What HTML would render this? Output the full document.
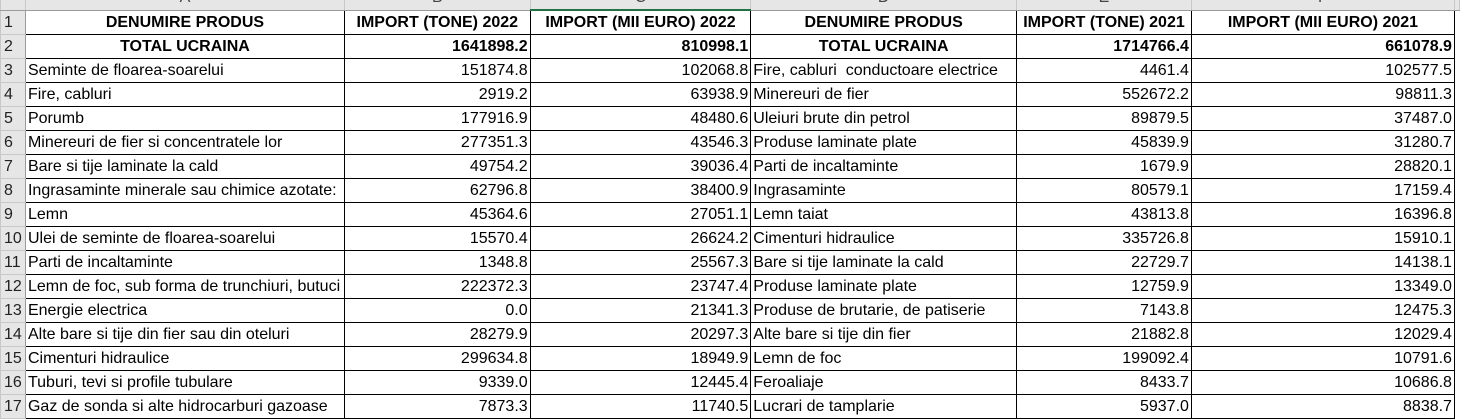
<!DOCTYPE html>
<html><head><meta charset="utf-8"><style>
html,body{margin:0;padding:0;background:#fff;width:1460px;height:417px;overflow:hidden}
table{position:absolute;left:0;top:-15px;border-collapse:collapse;table-layout:fixed;font-family:"Liberation Sans",Arial,sans-serif;font-size:16px;color:#000}
td{height:23px;padding:0 2px;border:1px solid #000;white-space:nowrap;overflow:hidden;line-height:23px}
td.rh{background:#e6e6e6;border:1px solid #c8c8c8;border-right:1px solid #9a9a9a;color:#222;text-align:left;padding-left:3px;font-size:16px}
tr.ch td{background:#e6e6e6;border:1px solid #c8c8c8;border-bottom:1px solid #9a9a9a;color:#444;text-align:center}
tr.ch td.sel{border-bottom:2px solid #217346}
.b{font-weight:bold}
.c{text-align:center}
.r{text-align:right}
td.e{border:none;background:#fff}
</style></head><body>
<table>
<colgroup><col style="width:25px"><col style="width:319px"><col style="width:186px"><col style="width:221px"><col style="width:266px"><col style="width:175px"><col style="width:264px"><col style="width:4px"></colgroup>
<tr class="ch"><td></td><td>A</td><td>B</td><td class="sel">C</td><td>D</td><td>E</td><td>F</td><td class="e" style="background:#e6e6e6"></td></tr>
<tr><td class="rh">1</td><td class="b c">DENUMIRE PRODUS</td><td class="b c">IMPORT (TONE) 2022</td><td class="b c">IMPORT (MII EURO) 2022</td><td class="b c">DENUMIRE PRODUS</td><td class="b c">IMPORT (TONE) 2021</td><td class="b c">IMPORT (MII EURO) 2021</td><td class="e"></td></tr>
<tr><td class="rh">2</td><td class="b c">TOTAL UCRAINA</td><td class="b r">1641898.2</td><td class="b r">810998.1</td><td class="b c">TOTAL UCRAINA</td><td class="b r">1714766.4</td><td class="b r">661078.9</td><td class="e"></td></tr>
<tr><td class="rh">3</td><td>Seminte de floarea-soarelui</td><td class="r">151874.8</td><td class="r">102068.8</td><td>Fire, cabluri&nbsp; conductoare electrice</td><td class="r">4461.4</td><td class="r">102577.5</td><td class="e"></td></tr>
<tr><td class="rh">4</td><td>Fire, cabluri</td><td class="r">2919.2</td><td class="r">63938.9</td><td>Minereuri de fier</td><td class="r">552672.2</td><td class="r">98811.3</td><td class="e"></td></tr>
<tr><td class="rh">5</td><td>Porumb</td><td class="r">177916.9</td><td class="r">48480.6</td><td>Uleiuri brute din petrol</td><td class="r">89879.5</td><td class="r">37487.0</td><td class="e"></td></tr>
<tr><td class="rh">6</td><td>Minereuri de fier si concentratele lor</td><td class="r">277351.3</td><td class="r">43546.3</td><td>Produse laminate plate</td><td class="r">45839.9</td><td class="r">31280.7</td><td class="e"></td></tr>
<tr><td class="rh">7</td><td>Bare si tije laminate la cald</td><td class="r">49754.2</td><td class="r">39036.4</td><td>Parti de incaltaminte</td><td class="r">1679.9</td><td class="r">28820.1</td><td class="e"></td></tr>
<tr><td class="rh">8</td><td>Ingrasaminte minerale sau chimice azotate:</td><td class="r">62796.8</td><td class="r">38400.9</td><td>Ingrasaminte</td><td class="r">80579.1</td><td class="r">17159.4</td><td class="e"></td></tr>
<tr><td class="rh">9</td><td>Lemn</td><td class="r">45364.6</td><td class="r">27051.1</td><td>Lemn taiat</td><td class="r">43813.8</td><td class="r">16396.8</td><td class="e"></td></tr>
<tr><td class="rh">10</td><td>Ulei de seminte de floarea-soarelui</td><td class="r">15570.4</td><td class="r">26624.2</td><td>Cimenturi hidraulice</td><td class="r">335726.8</td><td class="r">15910.1</td><td class="e"></td></tr>
<tr><td class="rh">11</td><td>Parti de incaltaminte</td><td class="r">1348.8</td><td class="r">25567.3</td><td>Bare si tije laminate la cald</td><td class="r">22729.7</td><td class="r">14138.1</td><td class="e"></td></tr>
<tr><td class="rh">12</td><td>Lemn de foc, sub forma de trunchiuri, butuci</td><td class="r">222372.3</td><td class="r">23747.4</td><td>Produse laminate plate</td><td class="r">12759.9</td><td class="r">13349.0</td><td class="e"></td></tr>
<tr><td class="rh">13</td><td>Energie electrica</td><td class="r">0.0</td><td class="r">21341.3</td><td>Produse de brutarie, de patiserie</td><td class="r">7143.8</td><td class="r">12475.3</td><td class="e"></td></tr>
<tr><td class="rh">14</td><td>Alte bare si tije din fier sau din oteluri</td><td class="r">28279.9</td><td class="r">20297.3</td><td>Alte bare si tije din fier</td><td class="r">21882.8</td><td class="r">12029.4</td><td class="e"></td></tr>
<tr><td class="rh">15</td><td>Cimenturi hidraulice</td><td class="r">299634.8</td><td class="r">18949.9</td><td>Lemn de foc</td><td class="r">199092.4</td><td class="r">10791.6</td><td class="e"></td></tr>
<tr><td class="rh">16</td><td>Tuburi, tevi si profile tubulare</td><td class="r">9339.0</td><td class="r">12445.4</td><td>Feroaliaje</td><td class="r">8433.7</td><td class="r">10686.8</td><td class="e"></td></tr>
<tr><td class="rh">17</td><td>Gaz de sonda si alte hidrocarburi gazoase</td><td class="r">7873.3</td><td class="r">11740.5</td><td>Lucrari de tamplarie</td><td class="r">5937.0</td><td class="r">8838.7</td><td class="e"></td></tr>
</table>
</body></html>
